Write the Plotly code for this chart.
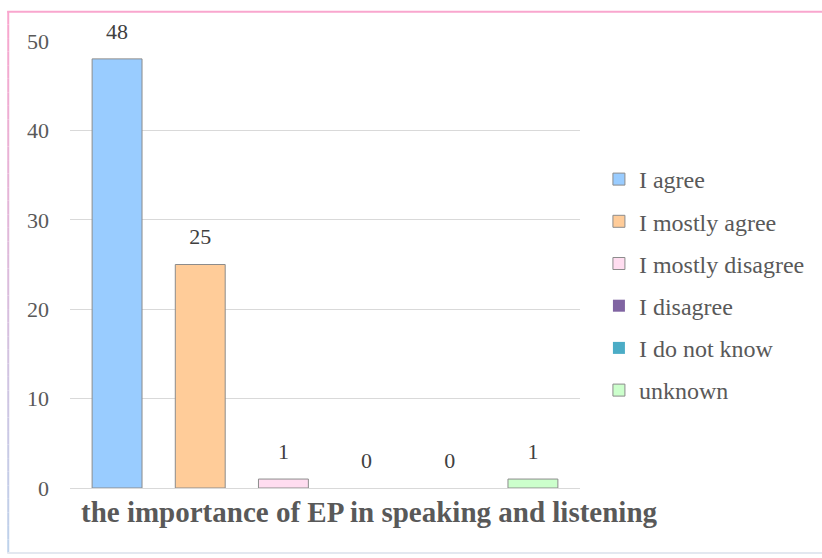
import plotly.graph_objects as go

categories = ["the importance of EP in speaking and listening"]
series_names = ["I agree", "I mostly agree", "I mostly disagree", "I disagree", "I do not know", "unknown"]
series_values = [48, 25, 1, 0, 0, 1]
series_colors = ["#99CCFF", "#FFCC99", "#FFDDF0", "#8064A2", "#4BACC6", "#CCFFCC"]
y_ticks = [0, 10, 20, 30, 40, 50]

W, H = 822, 558
L, R, T, B = 70, 582, 41, 488  # plot area in pixels

def px_x(p):
    return (p - L) / (R - L)

def px_y(p):
    return (B - p) / (B - T)

FONT = "Liberation Serif, Times New Roman, serif"

fig = go.Figure()
for name, val, col in zip(series_names, series_values, series_colors):
    fig.add_trace(go.Bar(
        x=categories, y=[val], name=name, legendgroup=name,
        offsetgroup=name, alignmentgroup="a",
        marker=dict(color=col, line=dict(color="#8C8C8C", width=[1 if val else 0])),
        hoverinfo="name+y",
    ))
# value labels, positioned above each bar
for name, val in zip(series_names, series_values):
    fig.add_trace(go.Scatter(
        x=categories, y=[val], mode="markers+text", text=[str(val)],
        textposition="top center", offsetgroup=name, alignmentgroup="a",
        marker=dict(size=22, opacity=0), cliponaxis=False,
        textfont=dict(family=FONT, size=22, color="#404040"),
        showlegend=False, hoverinfo="skip",
    ))

shapes = []
# top border (pink)
shapes.append(dict(type="line", xref="paper", yref="paper",
                   x0=px_x(7), x1=px_x(830), y0=px_y(11.7), y1=px_y(11.7),
                   line=dict(color="#F9A6CE", width=2)))
# left border gradient pink -> light blue
n = 40
top, bot = 11, 553
c0 = (249, 166, 206)
c1 = (190, 210, 235)
for i in range(n):
    t = i / (n - 1)
    c = tuple(int(c0[k] + (c1[k] - c0[k]) * t) for k in range(3))
    y0 = top + (bot - top) * i / n
    y1 = top + (bot - top) * (i + 1) / n
    shapes.append(dict(type="line", xref="paper", yref="paper",
                       x0=px_x(8), x1=px_x(8), y0=px_y(y0), y1=px_y(y1),
                       line=dict(color="rgb(%d,%d,%d)" % c, width=2)))
# bottom border (light)
shapes.append(dict(type="line", xref="paper", yref="paper",
                   x0=px_x(7), x1=px_x(830), y0=px_y(553), y1=px_y(553),
                   line=dict(color="#E3E8F0", width=2)))

fig.update_layout(
    width=W, height=H,
    margin=dict(l=L, r=W - R, t=T, b=H - B, pad=0),
    paper_bgcolor="white", plot_bgcolor="white",
    barmode="group", scattermode="group", bargap=0.0215, bargroupgap=0.4, scattergap=0.0215,
    font=dict(family=FONT, size=22, color="#595959"),
    showlegend=True,
    legend=dict(
        x=px_x(601), y=px_y(157), xanchor="left", yanchor="top",
        font=dict(family=FONT, size=24, color="#595959"),
        tracegroupgap=8, itemwidth=30,
        bgcolor="rgba(0,0,0,0)",
    ),
    xaxis=dict(showticklabels=False, showgrid=False, showline=False, zeroline=False, ticks=""),
    yaxis=dict(range=[0, 50], tickvals=y_ticks, showgrid=True, gridcolor="#D9D9D9", gridwidth=1,
               zeroline=True, zerolinecolor="#D9D9D9", zerolinewidth=1, showline=False,
               ticks="", ticklabelstandoff=20,
               tickfont=dict(family=FONT, size=22, color="#595959")),
    shapes=shapes,
    annotations=[dict(
        text="<b>%s</b>" % categories[0], xref="paper", yref="paper",
        x=px_x(371), y=px_y(512), xanchor="center", yanchor="middle",
        showarrow=False, font=dict(family=FONT, size=29, color="#595959"),
    )],
)

fig.write_html("out.html")
